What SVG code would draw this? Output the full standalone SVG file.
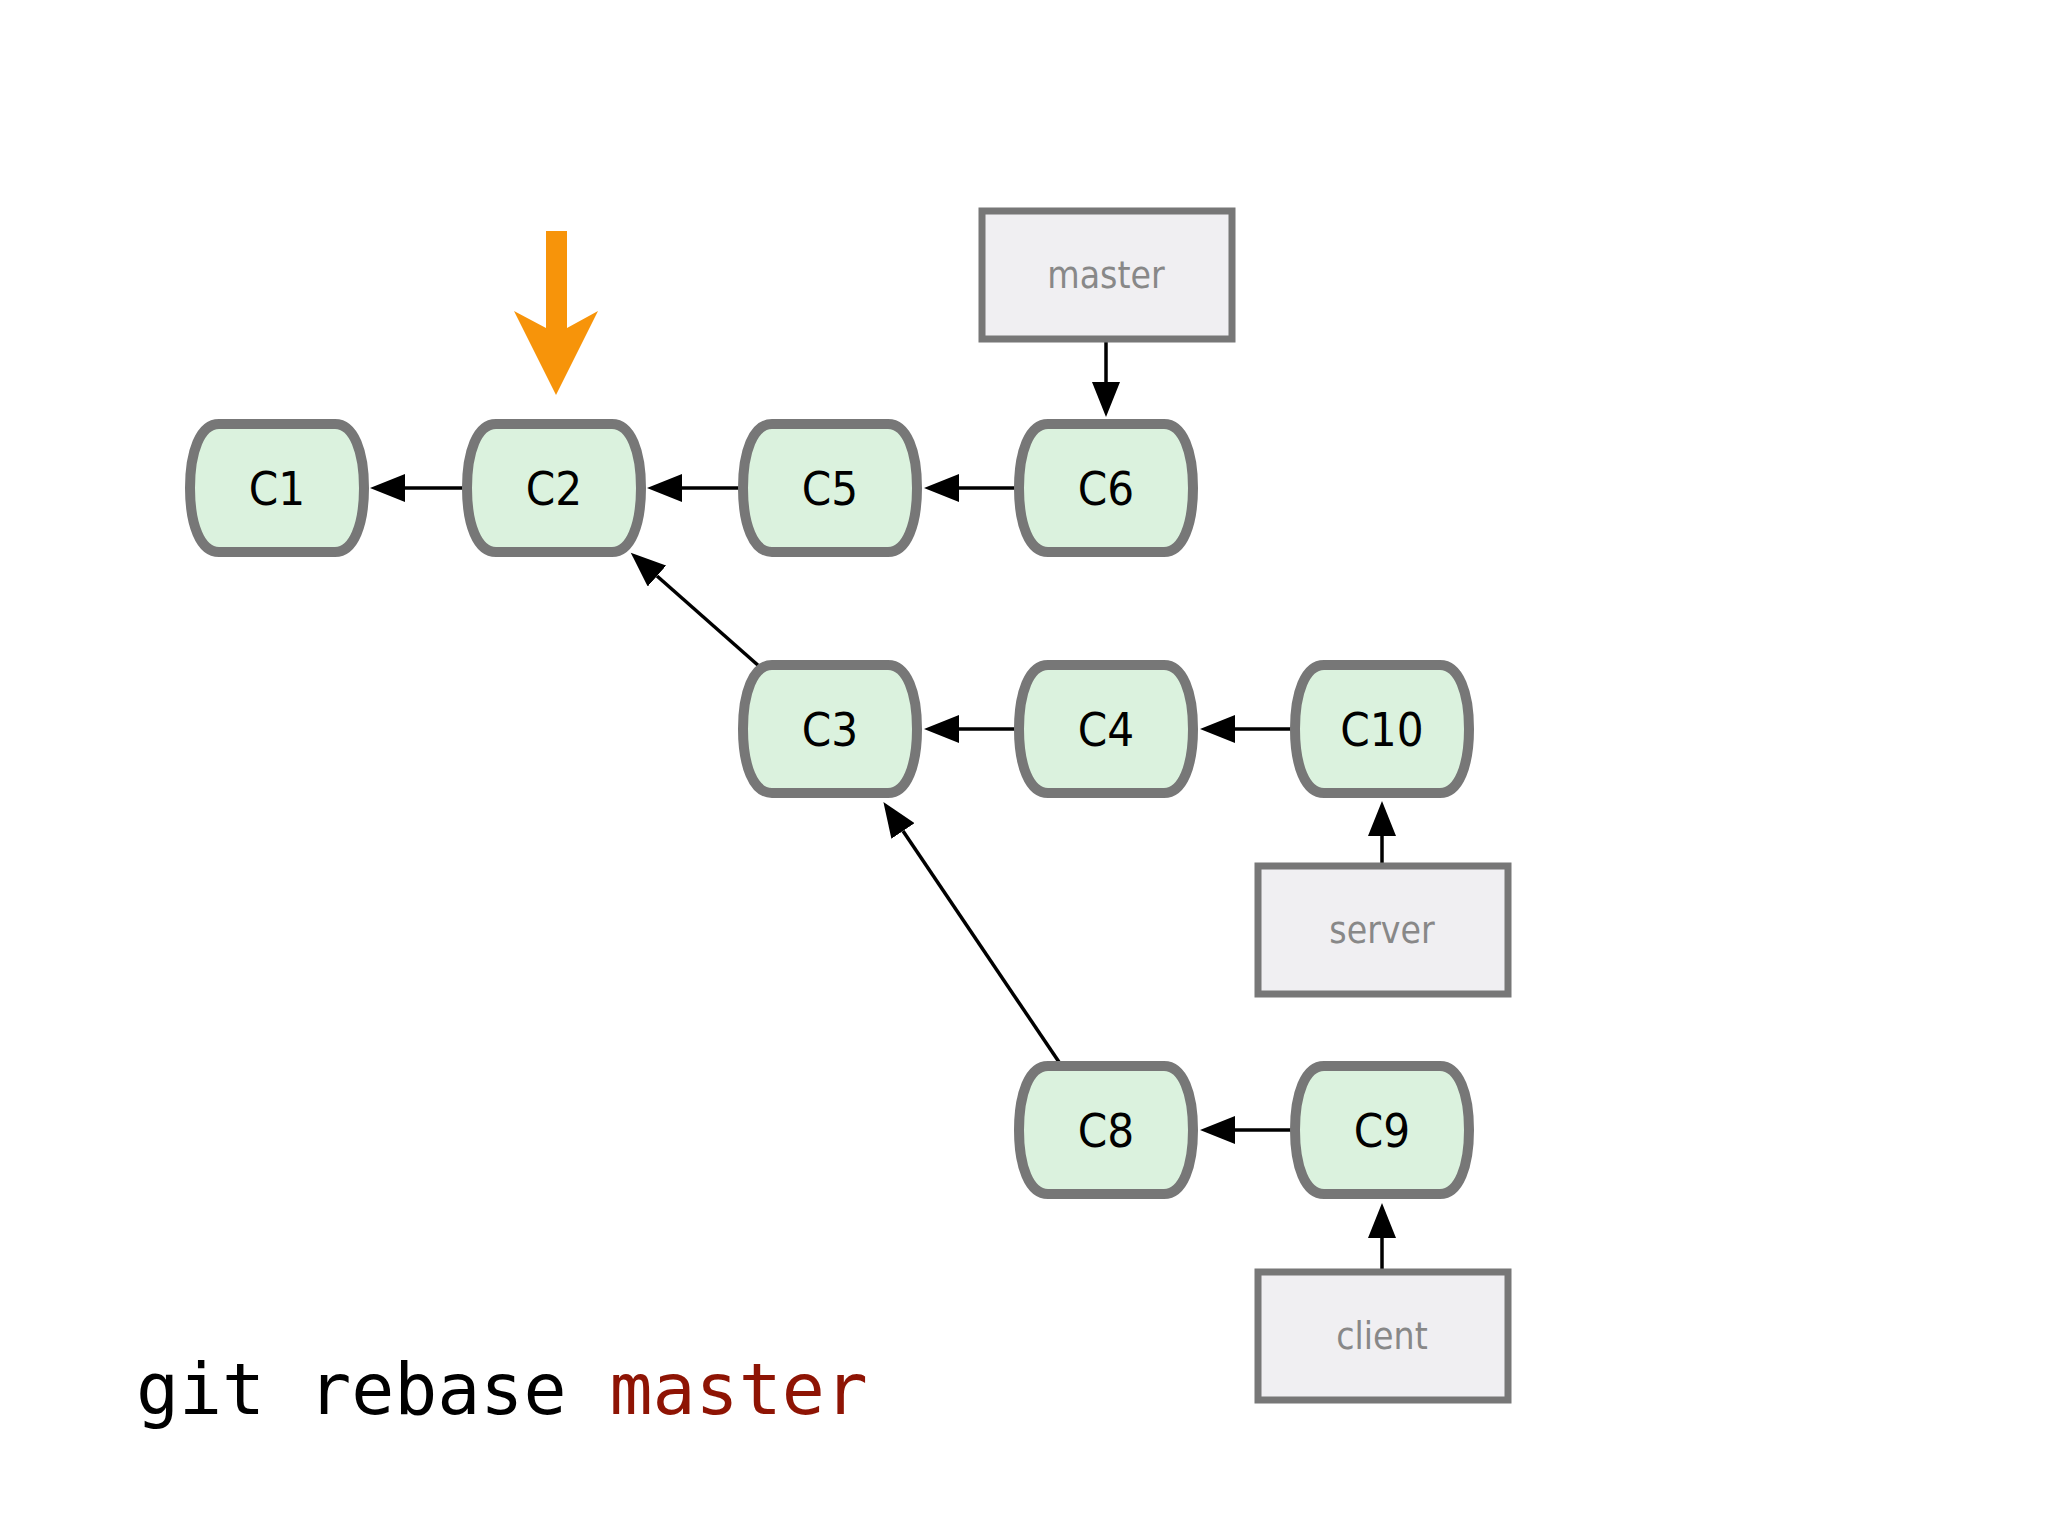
<svg xmlns="http://www.w3.org/2000/svg" width="2048" height="1536" viewBox="0 0 2048 1536">
  <style>
    .commit path { fill: #dbf2de; stroke: #777777; stroke-width: 10; stroke-linejoin: round; }
    .commit text { font-family: "DejaVu Sans Condensed", "DejaVu Sans", sans-serif; font-stretch: condensed; font-size: 47px; fill: #000000; text-anchor: middle; }
    .ref rect { fill: #f0eff2; stroke: #777777; stroke-width: 7; }
    .ref text { font-family: "DejaVu Sans Condensed", "DejaVu Sans", sans-serif; font-stretch: condensed; font-size: 37px; fill: #888888; text-anchor: middle; }
    .edge { stroke: #000000; stroke-width: 3.5; fill: none; marker-end: url(#ah); }
    .cmd { font-family: "DejaVu Sans Mono", "Liberation Mono", monospace; font-size: 71.5px; }
  </style>
  <defs>
    <marker id="ah" markerUnits="userSpaceOnUse" markerWidth="36" markerHeight="28" refX="0" refY="14" orient="auto" viewBox="0 0 36 28">
      <path d="M0,0 L35,14 L0,28 Z" fill="#000000"/>
    </marker>
  </defs>
  <rect x="0" y="0" width="2048" height="1536" fill="#ffffff"/>

  <g id="connectors">
    <path class="edge" d="M466,488 L405,488"/>
    <path class="edge" d="M742,488 L682,488"/>
    <path class="edge" d="M1019,488 L959,488"/>
    <path class="edge" d="M1106,342 L1106,382"/>
    <path class="edge" d="M760,667 L657,576"/>
    <path class="edge" d="M1019,729 L959,729"/>
    <path class="edge" d="M1295,729 L1235,729"/>
    <path class="edge" d="M1382,863 L1382,836"/>
    <path class="edge" d="M1059,1062 L903,831"/>
    <path class="edge" d="M1295,1130 L1235,1130"/>
    <path class="edge" d="M1382,1270 L1382,1238"/>
  </g>

  <g id="pointer">
    <path d="M546,231 L567,231 L567,328 L598,311 L556,395 L514,311 L546,328 Z" fill="#f7940a"/>
  </g>

  <g id="C1" class="commit" transform="translate(277,488)"><path d="M-58,-64 L58,-64 C77,-64 87,-36 87,0 C87,36 77,64 58,64 L-58,64 C-77,64 -87,36 -87,0 C-87,-36 -77,-64 -58,-64 Z"/><text x="0" y="17">C1</text></g>
  <g id="C2" class="commit" transform="translate(554,488)"><path d="M-58,-64 L58,-64 C77,-64 87,-36 87,0 C87,36 77,64 58,64 L-58,64 C-77,64 -87,36 -87,0 C-87,-36 -77,-64 -58,-64 Z"/><text x="0" y="17">C2</text></g>
  <g id="C5" class="commit" transform="translate(830,488)"><path d="M-58,-64 L58,-64 C77,-64 87,-36 87,0 C87,36 77,64 58,64 L-58,64 C-77,64 -87,36 -87,0 C-87,-36 -77,-64 -58,-64 Z"/><text x="0" y="17">C5</text></g>
  <g id="C6" class="commit" transform="translate(1106,488)"><path d="M-58,-64 L58,-64 C77,-64 87,-36 87,0 C87,36 77,64 58,64 L-58,64 C-77,64 -87,36 -87,0 C-87,-36 -77,-64 -58,-64 Z"/><text x="0" y="17">C6</text></g>
  <g id="C3" class="commit" transform="translate(830,729)"><path d="M-58,-64 L58,-64 C77,-64 87,-36 87,0 C87,36 77,64 58,64 L-58,64 C-77,64 -87,36 -87,0 C-87,-36 -77,-64 -58,-64 Z"/><text x="0" y="17">C3</text></g>
  <g id="C4" class="commit" transform="translate(1106,729)"><path d="M-58,-64 L58,-64 C77,-64 87,-36 87,0 C87,36 77,64 58,64 L-58,64 C-77,64 -87,36 -87,0 C-87,-36 -77,-64 -58,-64 Z"/><text x="0" y="17">C4</text></g>
  <g id="C10" class="commit" transform="translate(1382,729)"><path d="M-58,-64 L58,-64 C77,-64 87,-36 87,0 C87,36 77,64 58,64 L-58,64 C-77,64 -87,36 -87,0 C-87,-36 -77,-64 -58,-64 Z"/><text x="0" y="17">C10</text></g>
  <g id="C8" class="commit" transform="translate(1106,1130)"><path d="M-58,-64 L58,-64 C77,-64 87,-36 87,0 C87,36 77,64 58,64 L-58,64 C-77,64 -87,36 -87,0 C-87,-36 -77,-64 -58,-64 Z"/><text x="0" y="17">C8</text></g>
  <g id="C9" class="commit" transform="translate(1382,1130)"><path d="M-58,-64 L58,-64 C77,-64 87,-36 87,0 C87,36 77,64 58,64 L-58,64 C-77,64 -87,36 -87,0 C-87,-36 -77,-64 -58,-64 Z"/><text x="0" y="17">C9</text></g>

  <g id="master" class="ref"><rect x="982" y="211" width="250" height="128"/><text x="1106" y="288">master</text></g>
  <g id="server" class="ref"><rect x="1258" y="866" width="250" height="128"/><text x="1382" y="943">server</text></g>
  <g id="client" class="ref"><rect x="1258" y="1272" width="250" height="128"/><text x="1382" y="1349">client</text></g>

  <g id="command">
    <text class="cmd" x="136" y="1414"><tspan fill="#000000">git rebase </tspan><tspan fill="#8e1404">master</tspan></text>
  </g>
</svg>
